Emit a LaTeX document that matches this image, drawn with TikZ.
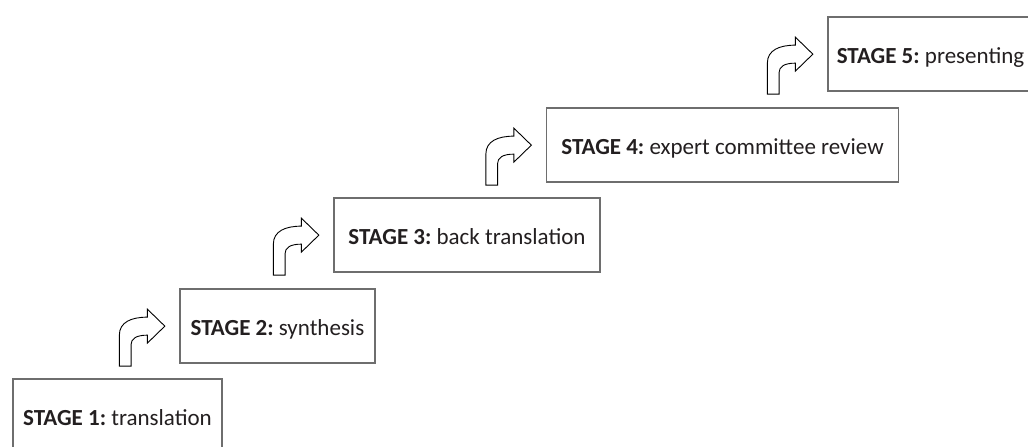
\documentclass[tikz,border=0pt]{standalone}
\usepackage{fontspec}
\setmainfont{Carlito}
\usetikzlibrary{calc}
\definecolor{boxline}{HTML}{6E6E6E}
\definecolor{ink}{HTML}{231F20}
\frenchspacing
\begin{document}
\begin{tikzpicture}[x=1pt,y=1pt,
  stagebox/.style={draw=boxline, line width=1.3pt, fill=white, inner sep=0pt,
    minimum height=74pt, text height=19.8pt, text depth=0pt, text=ink,
    font=\fontsize{23}{27}\selectfont},
  turnarrow/.style={draw=black, line width=0.9pt, fill=white, line join=miter}]
\clip (0,0) rectangle (1028,447);

% stage boxes, climbing from bottom left to top right
\node[stagebox, minimum width=209pt] (s1) at (117.5,31)  {\textbf{STAGE 1:} translation};
\node[stagebox, minimum width=195pt] (s2) at (277.5,121) {\textbf{STAGE 2:} synthesis};
\node[stagebox, minimum width=266pt] (s3) at (467,212)   {\textbf{STAGE 3:} back translation};
\node[stagebox, minimum width=352pt] (s4) at (722.5,302) {\textbf{STAGE 4:} expert committee review};
\node[stagebox, minimum width=205pt] (s5) at (930.5,393) {\textbf{STAGE 5:} presenting};

% bent-up arrow leading onto each next step
\foreach \b in {s2,s3,s4,s5}{
  \draw[turnarrow, shift={($(\b.south west)+(-60,-2.5)$)}]
    (0,0) -- (11.7,0) -- (11.7,21.5)
    .. controls (11.7,27.5) and (17,31) .. (28,31)
    -- (28,23) -- (45.5,40) -- (28,57) -- (28,49)
    .. controls (12,49) and (0,44) .. (0,31) -- cycle;
}
\end{tikzpicture}
\end{document}
